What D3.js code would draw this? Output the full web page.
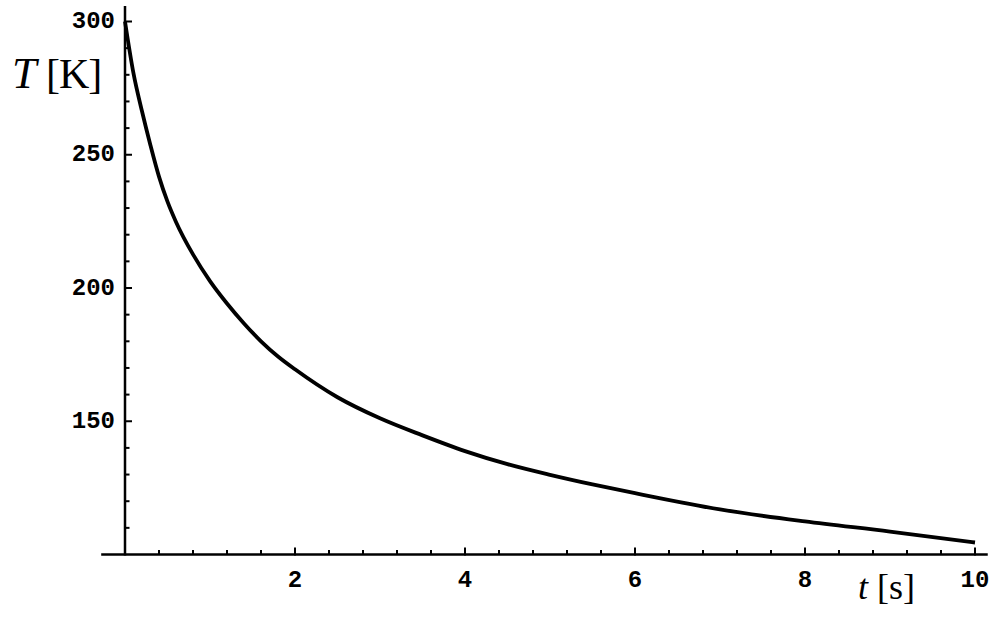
<!DOCTYPE html>
<html>
<head>
<meta charset="utf-8">
<script src="https://cdn.jsdelivr.net/npm/d3@7/dist/d3.min.js"></script>
<style>
  html, body { margin: 0; padding: 0; background: #fff; }
  svg { display: block; }
</style>
</head>
<body>
<svg id="chart" width="1000" height="625"></svg>
<script>
// ---- data ----
const timeS = [0, 0.1, 0.2, 0.3, 0.4, 0.5, 0.6, 0.8, 1.0, 1.2, 1.4, 1.6, 1.8, 2.0,
               2.5, 3.0, 3.5, 4.0, 4.5, 5.0, 5.5, 6.0, 7.0, 8.0, 9.0, 10.0];
const tempK = [300, 280.5, 266.3, 253.5, 241.8, 232.4, 224.8, 212.6, 202.6, 194.2,
               186.7, 180.0, 174.3, 169.5, 159.0, 151.1, 144.7, 138.8, 133.9, 129.9,
               126.3, 123.0, 116.9, 112.4, 108.6, 104.5];
const xTickValues = [2, 4, 6, 8, 10];
const yTickValues = [150, 200, 250, 300];
const xMinorStep = 0.4;
const yMinorStep = 10;

// ---- layout ----
const svg = d3.select("#chart");
const x = d3.scaleLinear().domain([0, 10]).range([125, 975]);
const y = d3.scaleLinear().domain([100, 300]).range([554.5, 21.5]);
const xAxisExtent = [-0.28, 10.15];
const yAxisExtent = [100, 305.8];

const axisColor = "#000";
const tickFont = "'Liberation Mono', 'Courier New', monospace";
const serif = "'Liberation Serif', 'Times New Roman', serif";

// axis lines
svg.append("line")
  .attr("x1", x(xAxisExtent[0])).attr("x2", x(xAxisExtent[1]))
  .attr("y1", y(100)).attr("y2", y(100))
  .attr("stroke", axisColor).attr("stroke-width", 2.5);
svg.append("line")
  .attr("x1", x(0)).attr("x2", x(0))
  .attr("y1", y(yAxisExtent[0]) + 1).attr("y2", y(yAxisExtent[1]))
  .attr("stroke", axisColor).attr("stroke-width", 2.5);

// minor ticks
const xMinor = d3.range(1, Math.round(10 / xMinorStep) + 1)
  .map(i => +(i * xMinorStep).toFixed(2))
  .filter(v => !xTickValues.some(m => Math.abs(m - v) < 1e-6));
const yMinor = d3.range(1, 21).map(i => 100 + i * yMinorStep)
  .filter(v => !yTickValues.includes(v));

svg.append("g").selectAll("line").data(xMinor).join("line")
  .attr("x1", d => x(d)).attr("x2", d => x(d))
  .attr("y1", y(100)).attr("y2", y(100) - 4.5)
  .attr("stroke", axisColor).attr("stroke-width", 2);
svg.append("g").selectAll("line").data(xTickValues).join("line")
  .attr("x1", d => x(d)).attr("x2", d => x(d))
  .attr("y1", y(100) + 1).attr("y2", y(100) - 7)
  .attr("stroke", axisColor).attr("stroke-width", 2);

svg.append("g").selectAll("line").data(yMinor).join("line")
  .attr("x1", x(0)).attr("x2", x(0) + 4.5)
  .attr("y1", d => y(d)).attr("y2", d => y(d))
  .attr("stroke", axisColor).attr("stroke-width", 2);
svg.append("g").selectAll("line").data(yTickValues).join("line")
  .attr("x1", x(0) - 1).attr("x2", x(0) + 7)
  .attr("y1", d => y(d)).attr("y2", d => y(d))
  .attr("stroke", axisColor).attr("stroke-width", 2);

// tick labels
svg.append("g").selectAll("text").data(xTickValues).join("text")
  .attr("x", d => x(d)).attr("y", 587)
  .attr("text-anchor", "middle")
  .attr("font-family", tickFont).attr("font-weight", "bold").attr("font-size", 24)
  .attr("fill", "#000")
  .text(d => d);
svg.append("g").selectAll("text").data(yTickValues).join("text")
  .attr("x", 115).attr("y", d => y(d) + 6.5)
  .attr("text-anchor", "end")
  .attr("font-family", tickFont).attr("font-weight", "bold").attr("font-size", 24)
  .attr("fill", "#000")
  .text(d => d);

// axis titles
const yTitle = svg.append("text").attr("x", 12).attr("y", 88)
  .attr("font-family", serif).attr("font-size", 42).attr("fill", "#000");
yTitle.append("tspan").attr("font-style", "italic").attr("font-size", 44).text("T");
yTitle.append("tspan").attr("letter-spacing", -1).text(" [K]");

const xTitle = svg.append("text").attr("x", 858).attr("y", 599)
  .attr("font-family", serif).attr("font-size", 36).attr("fill", "#000");
xTitle.append("tspan").attr("font-style", "italic").text("t");
xTitle.append("tspan").text(" [s]");

// curve
const pts = timeS.map((t, i) => [t, tempK[i]]);
const line = d3.line()
  .x(d => x(d[0])).y(d => y(d[1]))
  .curve(d3.curveMonotoneX);
svg.append("path")
  .datum(pts)
  .attr("d", line)
  .attr("fill", "none")
  .attr("stroke", "#000")
  .attr("stroke-width", 3.8)
  .attr("stroke-linejoin", "round");
</script>
</body>
</html>
